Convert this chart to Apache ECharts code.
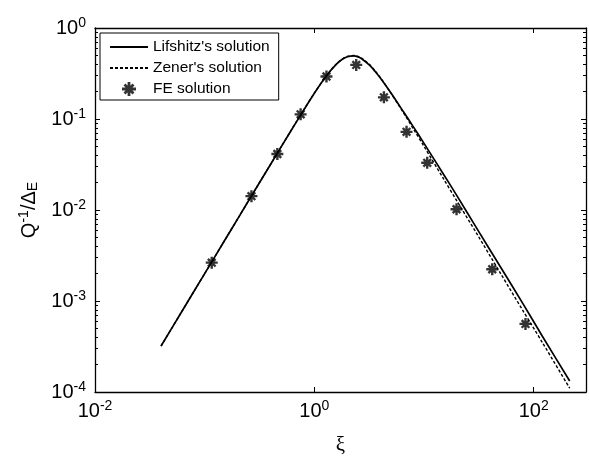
<!DOCTYPE html>
<html>
<head>
<meta charset="utf-8">
<script src="https://cdn.jsdelivr.net/npm/echarts@6/dist/echarts.min.js"></script>
<style>
html,body{margin:0;padding:0;background:#fff}
#chart{width:589px;height:461px}
</style>
</head>
<body>
<div id="chart"></div>
<script>
var xi = [0.04, 0.06, 0.1, 0.15, 0.2, 0.3, 0.5, 0.7, 1, 1.3, 1.6, 1.8, 2, 2.3, 2.5, 2.7, 3.2, 3.6, 4, 5, 6.5, 8, 10, 15, 20, 30, 50, 80, 120, 213];
var lifshitz = [3.2e-4, 7.2e-4, 2.0e-3, 4.5e-3, 8.0e-3, 0.018, 0.0497, 0.0965, 0.192, 0.303, 0.403, 0.453, 0.483, 0.493, 0.481, 0.46, 0.388, 0.331, 0.282, 0.193, 0.120, 0.082, 0.054, 0.0249, 0.0143, 0.0064, 0.00235, 0.00093, 0.00041, 0.000132];
var zener = [3.2e-4, 7.2e-4, 2.0e-3, 4.5e-3, 8.0e-3, 0.018, 0.0499, 0.0971, 0.192, 0.303, 0.406, 0.456, 0.488, 0.499, 0.488, 0.466, 0.394, 0.336, 0.285, 0.192, 0.117, 0.078, 0.050, 0.0222, 0.0125, 0.0056, 0.0020, 0.00078, 0.00035, 0.00011];
// FE points
var feXi = [0.116, 0.267, 0.46, 0.75, 1.29, 2.41, 4.31, 6.93, 10.7, 19.8, 41.9, 84.2];
var feVal = [0.00264, 0.0142, 0.0413, 0.1125, 0.293, 0.393, 0.173, 0.0722, 0.033, 0.0102, 0.00223, 0.00056];
// y decades (log10) for the minor ticks
var yDecades = [-4, -3, -2, -1];

var FONT = 'Liberation Sans';
// 8-armed asterisk marker
var star = 'path://M0 8L20 8L20 12L0 12Z M8 0L12 0L12 20L8 20Z M2.2 5L5 2.2L17.8 15L15 17.8Z M15 2.2L17.8 5L5 17.8L2.2 15Z';

var minorLog = [];
yDecades.forEach(function(d){
    for(var k=2;k<=9;k++){ minorLog.push(d + Math.log10(k)); }
});

function powLabel(v){
    var e = Math.round(Math.log10(v));
    return '{b|10}{s|' + e + '}';
}
var labelRich = {
    b: {fontSize: 20, fontFamily: FONT, color: '#000'},
    s: {fontSize: 14, fontFamily: FONT, color: '#000', padding: [0, 0, 10, 0]}
};

function pairs(xs, ys){
    return xs.map(function(x, i){ return [x, ys[i]]; });
}

var blackLine = {show: true, onZero: false, lineStyle: {color: '#000', width: 1.3}};
var hideSym = {opacity: 0};

var option = {
    animation: false,
    backgroundColor: '#fff',
    grid: {left: 95, top: 28, width: 491, height: 367, containLabel: false},
    legend: {
        orient: 'vertical',
        left: 100, top: 33,
        padding: [6, 9, 3, 9],
        itemGap: 5,
        itemWidth: 38,
        itemHeight: 14,
        borderColor: '#000',
        borderWidth: 1,
        backgroundColor: '#fff',
        textStyle: {fontSize: 15.5, fontFamily: FONT, color: '#000'},
        data: [
            {name: "Lifshitz's solution", itemStyle: hideSym},
            {name: "Zener's solution", itemStyle: hideSym},
            'FE solution'
        ]
    },
    xAxis: [{
        type: 'log', logBase: 10, min: 0.01, max: 300, interval: 2,
        position: 'bottom',
        axisLine: blackLine,
        axisTick: {show: true, inside: true, length: 5, lineStyle: {color: '#000', width: 1}},
        axisLabel: {formatter: powLabel, rich: labelRich, margin: 7, showMaxLabel: false, color: '#000'},
        splitLine: {show: false},
        name: 'ξ', nameLocation: 'middle', nameGap: 43,
        nameTextStyle: {fontSize: 21, fontFamily: 'Liberation Serif', color: '#000'}
    }, {
        type: 'log', logBase: 10, min: 0.01, max: 300, interval: 2,
        position: 'top',
        axisLine: blackLine,
        axisTick: {show: true, inside: true, length: 5, lineStyle: {color: '#000', width: 1}},
        axisLabel: {show: false},
        splitLine: {show: false}
    }],
    yAxis: [{
        type: 'log', logBase: 10, min: 1e-4, max: 1, interval: 1,
        position: 'left',
        axisLine: blackLine,
        axisTick: {show: true, inside: true, length: 5, lineStyle: {color: '#000', width: 1}},
        axisLabel: {formatter: powLabel, rich: labelRich, margin: 9, color: '#000'},
        splitLine: {show: false},
        name: 'Q{sup|-1}/Δ{sub|E}', nameLocation: 'middle', nameGap: 46, nameRotate: 90,
        nameTextStyle: {
            fontSize: 20, fontFamily: FONT, color: '#000',
            rich: {
                sup: {fontSize: 14, fontFamily: FONT, color: '#000', padding: [0, 0, 10, 0]},
                sub: {fontSize: 14, fontFamily: FONT, color: '#000', padding: [8, 0, 0, 0]}
            }
        }
    }, {
        type: 'log', logBase: 10, min: 1e-4, max: 1, interval: 1,
        position: 'right',
        axisLine: blackLine,
        axisTick: {show: true, inside: true, length: 5, lineStyle: {color: '#000', width: 1}},
        axisLabel: {show: false},
        splitLine: {show: false}
    }, {
        // minor ticks, left
        type: 'value', min: -4, max: 0,
        position: 'left',
        axisLine: {show: false},
        axisTick: {show: true, inside: true, length: 3, customValues: minorLog, lineStyle: {color: '#000', width: 1}},
        axisLabel: {show: false},
        splitLine: {show: false}
    }, {
        // minor ticks, right
        type: 'value', min: -4, max: 0,
        position: 'right',
        axisLine: {show: false},
        axisTick: {show: true, inside: true, length: 3, customValues: minorLog, lineStyle: {color: '#000', width: 1}},
        axisLabel: {show: false},
        splitLine: {show: false}
    }],
    series: [{
        name: "Lifshitz's solution",
        type: 'line',
        data: pairs(xi, lifshitz),
        smooth: 0.3,
        symbol: 'none',
        lineStyle: {color: '#000', width: 1.7},
        itemStyle: {color: '#000'},
        z: 3
    }, {
        name: "Zener's solution",
        type: 'line',
        data: pairs(xi, zener),
        smooth: 0.3,
        symbol: 'none',
        lineStyle: {color: '#000', width: 1.4, type: [3, 2]},
        itemStyle: {color: '#000'},
        z: 2
    }, {
        name: 'FE solution',
        type: 'scatter',
        data: pairs(feXi, feVal),
        symbol: star,
        symbolSize: 12,
        symbolKeepAspect: true,
        itemStyle: {color: '#000'},
        z: 4
    }]
};

var chart = echarts.init(document.getElementById('chart'));
chart.setOption(option);
</script>
</body>
</html>
